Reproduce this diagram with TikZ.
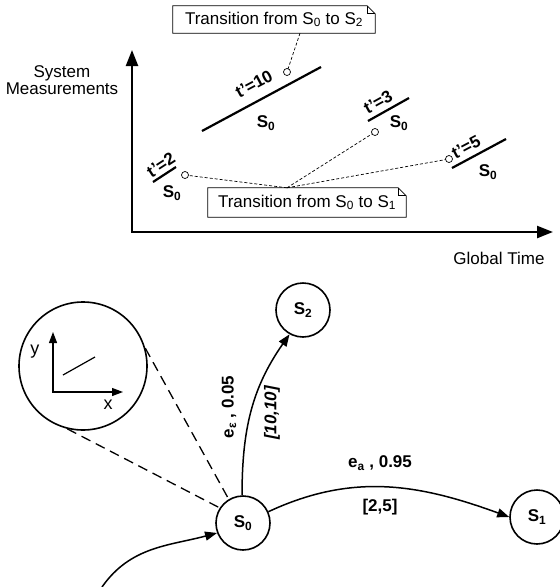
\documentclass[tikz,border=0pt]{standalone}
\usepackage{fontspec}
\setmainfont{Liberation Sans}
\usetikzlibrary{arrows.meta}
\begin{document}
\begin{tikzpicture}[x=1pt,y=1pt,
  txt/.style={font=\fontsize{17}{17}\selectfont, inner sep=0pt},
  bt/.style={font=\fontsize{17}{17}\selectfont\bfseries, inner sep=0pt},
  state/.style={circle, draw, line width=1.6pt, minimum size=54pt, inner sep=0pt, font=\fontsize{17}{17}\selectfont\bfseries},
  seg/.style={line width=2.2pt},
  lead/.style={dash pattern=on 3pt off 2pt, line width=0.7pt},
  mk/.style={circle, draw, fill=white, line width=0.7pt, minimum size=7pt, inner sep=0pt},
  note/.style={inner sep=0pt, font=\fontsize{17}{17}\selectfont},
  fold/.style={line width=0.8pt},
  edge/.style={line width=1.5pt, -{Triangle[length=12pt,width=9pt]}},
  bigarrow/.style={line width=2.4pt, {Triangle[length=16pt,width=12pt]}-{Triangle[length=16pt,width=12pt]}},
]
\useasboundingbox (0,0) rectangle (560,-587);

% ---------- top chart ----------
\coordinate (ytop) at (132,-50);
\coordinate (orig) at (132,-232);
\coordinate (xend) at (553,-232);
\draw[bigarrow] (ytop) -- (orig) -- (xend);
\node[txt, align=center] (ylab) at (62,-80) {System\\[-0.5pt]Measurements};
\node[txt] (xlab) at (499,-258) {Global Time};

% segments
\draw[seg] (202,-131) -- (321,-67);
\draw[seg] (368,-121) -- (409,-98);
\draw[seg] (452,-168) -- (506,-139);
\draw[seg] (153,-182) -- (176,-167);

\node[bt, rotate=28] (t10) at (254,-84) {t’=10};
\node[bt] (s10) at (266,-123) {S\textsubscript{0}};
\node[bt, rotate=29] (t3) at (378,-102) {t’=3};
\node[bt] (s3) at (399,-123) {S\textsubscript{0}};
\node[bt, rotate=28] (t5) at (466,-147) {t’=5};
\node[bt] (s5) at (488,-172) {S\textsubscript{0}};
\node[bt, rotate=33] (t2) at (161,-165) {t’=2};
\node[bt] (s2l) at (172,-193) {S\textsubscript{0}};

% notes
\node[note, minimum width=202pt, minimum height=27pt] (n2) at (274,-19.5) {Transition from S\textsubscript{0} to S\textsubscript{2}};
\draw[fold] (n2.south west) -- (n2.north west) -- ([xshift=-8pt]n2.north east) -- ([yshift=-8pt]n2.north east) -- (n2.south east) -- cycle;
\draw[fold] ([xshift=-8pt]n2.north east) |- ([yshift=-8pt]n2.north east);

\node[note, minimum width=198pt, minimum height=29pt] (n1) at (307,-202.5) {Transition from S\textsubscript{0} to S\textsubscript{1}};
\draw[fold] (n1.south west) -- (n1.north west) -- ([xshift=-8pt]n1.north east) -- ([yshift=-8pt]n1.north east) -- (n1.south east) -- cycle;
\draw[fold] ([xshift=-8pt]n1.north east) |- ([yshift=-8pt]n1.north east);

% markers and leaders
\coordinate (m10c) at (287,-72);
\coordinate (m3c) at (375,-132);
\coordinate (m5c) at (449,-159);
\coordinate (m2c) at (185,-175);
\coordinate (conv) at ([xshift=-20pt]n1.north);
\draw[lead] ([xshift=26pt]n2.south) -- (m10c);
\draw[lead] (conv) -- (m2c);
\draw[lead] (conv) -- (m3c);
\draw[lead] (conv) -- (m5c);
\node[mk] (m10) at (m10c) {};
\node[mk] (m3) at (m3c) {};
\node[mk] (m5) at (m5c) {};
\node[mk] (m2) at (m2c) {};

% ---------- bottom automaton ----------
\node[circle, draw, line width=1.6pt, minimum size=128pt, inner sep=0pt] (zc) at (83,-366) {};
\coordinate (za) at (53,-392);
\coordinate (zy) at (53,-332);
\coordinate (zx) at (123,-392);
\draw[line width=1.2pt, {Triangle[length=11pt,width=8pt]}-{Triangle[length=11pt,width=8pt]}] (zy) -- (za) -- (zx);
\draw[line width=1.2pt] (63,-375) -- (95,-357);
\node[txt, font=\fontsize{18}{18}\selectfont] (ylet) at (35,-352) {y};
\node[txt, font=\fontsize{18}{18}\selectfont] (xlet) at (108,-405) {x};

\node[state] (S0) at (243,-523) {S\textsubscript{0}};
\node[state] (S2) at (303,-310) {S\textsubscript{2}};
\node[state] (S1) at (537,-517) {S\textsubscript{1}};

\draw[dash pattern=on 10pt off 6pt, line width=1.3pt] (zc.16) -- (S0.121);
\draw[dash pattern=on 10pt off 6pt, line width=1.3pt] (zc.256) -- (S0.147);

\draw[edge] (S0.92) to[out=90, in=235] (S2.241);
\draw[edge] (S0.24) to[out=25, in=160] (S1.180);
\coordinate (st) at (102,-587);
\draw[edge] (st) to[out=55, in=195] (S0.201);

\node[bt, rotate=90] (l1) at (229,-407) {e\textsubscript{ε} , 0.05};
\node[bt, rotate=90, font=\fontsize{17}{17}\selectfont\bfseries\itshape] (l2) at (272,-413) {[10,10]};
\node[bt] (l3) at (380,-463) {e\textsubscript{a} , 0.95};
\node[bt] (l4) at (380,-507) {[2,5]};
\end{tikzpicture}
\end{document}
